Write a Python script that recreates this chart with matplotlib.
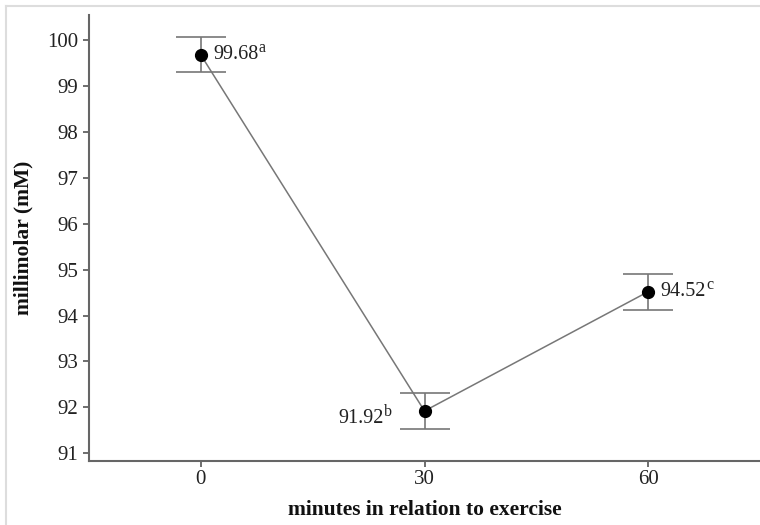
import matplotlib
matplotlib.use("Agg")
import matplotlib.pyplot as plt
from matplotlib.lines import Line2D

minutes = [0, 30, 60]
means = [99.68, 91.92, 94.52]
errors = [0.38, 0.39, 0.39]
letters = ["a", "b", "c"]
yticks = [91, 92, 93, 94, 95, 96, 97, 98, 99, 100]
xticks = [0, 30, 60]

plt.rcParams['font.family'] = ['Liberation Serif', 'DejaVu Serif']

fig = plt.figure(figsize=(7.6, 5.25), dpi=100)
ax = fig.add_axes([89/760, 1 - 461/525, (760 - 89)/760, (461 - 15)/525])

ax.errorbar(minutes, means, yerr=errors, color='#777777', lw=1.1,
            elinewidth=1.2, capsize=18, capthick=1.2, zorder=2)
ax.plot(minutes, means, 'o', color='black', markersize=8.5, zorder=3)

offsets = [(9, 0), (-29, -5.5), (9, 0)]
for x, y, l, (dx, dy) in zip(minutes, means, letters, offsets):
    t = ax.annotate(f"{y:.2f}", (x, y), xytext=(dx, dy),
                    textcoords='offset points', ha='left' if dx > 0 else 'right',
                    va='center', fontsize=14.5, color='#222222')
    ax.annotate(l, xy=(1.0, 0.45), xycoords=t, xytext=(0, 0),
                textcoords='offset points', ha='left', va='bottom',
                fontsize=11.5, color='#222222')

ax.set_xlim(-15, 75)
ax.set_ylim(90.83, 100.55)
ax.set_xticks(xticks)
ax.set_yticks(yticks)
ax.tick_params(axis='both', labelsize=15, colors='#555555', labelcolor='#222222',
               direction='out', length=4, width=1.2)
ax.tick_params(axis='x', pad=2.5)
for s in ['top', 'right']:
    ax.spines[s].set_visible(False)
for s in ['left', 'bottom']:
    ax.spines[s].set_color('#666666')
    ax.spines[s].set_linewidth(1.5)

ax.set_xlabel("minutes in relation to exercise", fontsize=15.5, fontweight='bold',
              color='#111111', labelpad=8)
ax.set_ylabel("millimolar (mM)", fontsize=15.5, fontweight='bold',
              color='#111111', labelpad=10)

# outer light frame
fig.add_artist(Line2D([6/760, 1], [1 - 6/525, 1 - 6/525], color='#dddddd', lw=1.5,
                      transform=fig.transFigure))
fig.add_artist(Line2D([6/760, 6/760], [0, 1 - 6/525], color='#dddddd', lw=1.5,
                      transform=fig.transFigure))

fig.savefig("out.png", dpi=100)
